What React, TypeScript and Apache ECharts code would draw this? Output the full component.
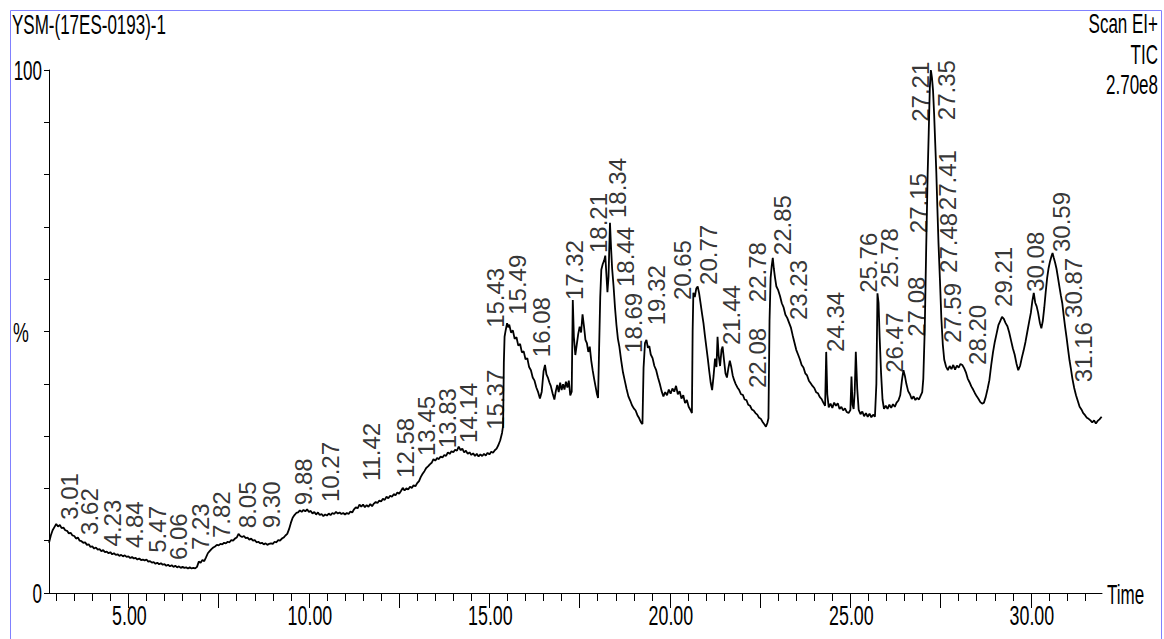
import React, { useEffect, useRef } from "react";
import * as echarts from "echarts";

// ---- TIC trace (retention time in min, relative intensity %) ----
const ticEarly: [number, number][] = [
  [2.8, 9.6], [2.85, 11.0], [2.9, 12.0], [2.95, 12.6], [3.0, 13.2], [3.05, 12.7], [3.1, 13.0], [3.15, 12.4],
  [3.2, 12.5], [3.25, 12.0], [3.3, 11.9], [3.35, 11.4], [3.4, 11.5], [3.45, 11.0], [3.5, 10.9], [3.55, 10.4],
  [3.6, 10.6], [3.65, 10.0], [3.7, 9.9], [3.75, 9.6], [3.8, 9.7], [3.85, 9.2], [3.9, 9.3], [3.95, 8.8],
  [4.0, 8.9], [4.05, 8.5], [4.1, 8.7], [4.15, 8.3], [4.2, 8.4], [4.25, 8.0], [4.3, 8.2], [4.35, 7.8],
  [4.4, 7.9], [4.45, 7.6], [4.5, 7.8], [4.55, 7.4], [4.6, 7.6], [4.65, 7.3], [4.7, 7.4], [4.75, 7.1],
  [4.8, 7.3], [4.85, 7.0], [4.9, 7.2], [4.95, 6.9], [5.0, 7.0], [5.05, 6.7], [5.1, 6.9], [5.15, 6.6],
  [5.2, 6.7], [5.25, 6.4], [5.3, 6.6], [5.35, 6.3], [5.4, 6.4], [5.45, 6.2], [5.5, 6.4], [5.55, 6.0],
  [5.6, 6.1], [5.65, 5.8], [5.7, 5.9], [5.75, 5.6], [5.8, 5.8], [5.85, 5.5], [5.9, 5.7], [5.95, 5.4],
  [6.0, 5.5], [6.05, 5.2], [6.1, 5.4], [6.15, 5.1], [6.2, 5.3], [6.25, 5.0], [6.3, 5.2], [6.35, 4.9],
  [6.4, 5.1], [6.45, 4.8], [6.5, 5.0], [6.55, 4.8], [6.6, 4.9], [6.65, 4.7], [6.7, 4.9], [6.75, 4.7],
  [6.8, 4.8], [6.85, 4.7], [6.9, 5.0], [6.95, 6.0], [7.0, 5.8], [7.05, 6.3], [7.1, 6.1], [7.15, 6.8],
  [7.2, 7.6], [7.25, 8.0], [7.3, 8.4], [7.35, 8.7], [7.4, 8.9], [7.45, 9.2], [7.5, 9.1], [7.55, 9.4],
  [7.6, 9.3], [7.65, 9.6], [7.7, 9.5], [7.75, 9.8], [7.8, 9.7], [7.85, 10.1], [7.9, 10.0], [7.95, 10.4],
  [8.0, 10.6], [8.05, 11.3], [8.1, 10.9], [8.15, 10.7], [8.2, 10.9], [8.25, 10.5], [8.3, 10.6], [8.35, 10.2],
  [8.4, 10.4], [8.45, 10.0], [8.5, 10.1], [8.55, 9.7], [8.6, 9.8], [8.65, 9.5], [8.7, 9.6], [8.75, 9.3],
  [8.8, 9.5], [8.85, 9.2], [8.9, 9.4], [8.95, 9.5], [9.0, 9.4], [9.05, 9.8], [9.1, 9.7], [9.15, 10.1],
  [9.2, 10.0], [9.25, 10.4], [9.3, 10.6], [9.35, 11.0], [9.4, 11.3], [9.45, 12.2], [9.5, 13.4], [9.55, 14.4],
  [9.6, 14.9], [9.65, 15.3], [9.7, 15.4], [9.75, 15.8], [9.8, 15.5], [9.85, 15.9], [9.9, 15.6], [9.95, 16.0],
  [10.0, 15.5], [10.05, 15.7], [10.1, 15.2], [10.15, 15.5], [10.2, 15.0], [10.25, 15.4], [10.3, 14.9], [10.35, 15.1],
  [10.4, 14.7], [10.45, 15.0], [10.5, 14.8], [10.55, 15.2], [10.6, 14.9], [10.65, 15.3], [10.7, 15.1], [10.75, 15.5],
  [10.8, 15.2], [10.85, 15.4], [10.9, 15.1], [10.95, 15.3], [11.0, 15.0], [11.05, 15.3], [11.1, 15.1], [11.15, 15.6],
  [11.2, 15.4], [11.25, 16.0], [11.3, 16.4], [11.35, 16.2], [11.4, 16.9], [11.45, 16.5], [11.5, 16.9], [11.55, 16.4],
  [11.6, 16.8], [11.65, 16.5], [11.7, 17.0], [11.75, 16.6], [11.8, 17.1], [11.85, 17.4], [11.9, 17.2], [11.95, 17.7],
  [12.0, 17.5], [12.05, 18.0], [12.1, 17.8], [12.15, 18.4], [12.2, 18.1], [12.25, 18.6], [12.3, 18.4], [12.35, 18.9],
  [12.4, 18.7], [12.45, 19.2], [12.5, 19.0], [12.55, 19.5], [12.6, 20.1], [12.65, 19.6], [12.7, 20.0], [12.75, 19.8],
  [12.8, 20.3], [12.85, 20.1], [12.9, 20.6], [12.95, 20.4], [13.0, 21.0], [13.05, 21.4], [13.1, 22.2], [13.15, 22.8],
  [13.2, 23.3], [13.25, 23.9], [13.3, 24.2], [13.35, 24.6], [13.4, 24.9], [13.45, 25.6], [13.5, 25.3], [13.55, 25.8],
  [13.6, 25.6], [13.65, 26.1], [13.7, 25.9], [13.75, 26.4], [13.8, 26.2], [13.85, 26.9], [13.9, 26.6], [13.95, 27.1],
  [14.0, 26.9], [14.05, 27.4], [14.1, 27.2], [14.15, 28.0], [14.2, 27.3], [14.25, 27.6], [14.3, 26.9], [14.35, 27.2],
  [14.4, 26.6], [14.45, 26.9], [14.5, 26.4], [14.55, 26.7], [14.6, 26.2], [14.65, 26.6], [14.7, 26.1], [14.75, 26.5],
  [14.8, 26.2], [14.85, 26.6], [14.9, 26.3], [14.95, 26.8], [15.0, 26.5], [15.05, 27.0], [15.1, 26.8], [15.15, 27.3],
  [15.2, 27.6], [15.25, 28.3], [15.3, 29.2], [15.35, 30.6],
];

const ticMid: [number, number][] = [
  [15.38, 32.0], [15.4, 44.0], [15.42, 49.0], [15.45, 50.2], [15.49, 51.6], [15.52, 50.8], [15.55, 51.3], [15.6, 49.8],
  [15.65, 50.2], [15.7, 48.6], [15.75, 48.9], [15.8, 47.3], [15.85, 47.6], [15.9, 46.0], [15.95, 46.2], [16.0, 44.7],
  [16.05, 44.9], [16.1, 43.2], [16.15, 42.6], [16.2, 41.2], [16.25, 40.6], [16.3, 39.3], [16.35, 38.4], [16.4, 37.2],
  [16.45, 38.5], [16.5, 42.4], [16.54, 43.6], [16.58, 41.8], [16.62, 41.2], [16.66, 40.3], [16.7, 39.6], [16.75, 38.2],
  [16.8, 37.0], [16.84, 38.6], [16.88, 39.8], [16.92, 38.4], [16.96, 40.2], [17.0, 38.8], [17.04, 39.9], [17.08, 38.9],
  [17.12, 40.4], [17.16, 39.3], [17.2, 40.6], [17.24, 37.8], [17.28, 38.5], [17.31, 56.0], [17.34, 49.0], [17.38, 45.5],
  [17.42, 47.5], [17.46, 49.5], [17.5, 50.9], [17.54, 49.8], [17.58, 53.3], [17.62, 51.0], [17.66, 48.4], [17.7, 47.8],
  [17.74, 46.1], [17.78, 47.1], [17.82, 44.5], [17.86, 42.6], [17.9, 41.0], [17.94, 39.5], [17.98, 38.0], [18.01, 37.3],
  [18.04, 47.0], [18.07, 56.5], [18.1, 61.8], [18.14, 62.9], [18.18, 63.6], [18.21, 64.5], [18.24, 61.0], [18.27, 57.5],
  [18.3, 60.5], [18.34, 70.8], [18.37, 66.0], [18.4, 62.0], [18.44, 58.6], [18.48, 54.5], [18.52, 51.2], [18.56, 48.6],
  [18.6, 47.1], [18.65, 44.5], [18.7, 42.2], [18.75, 40.6], [18.8, 39.0], [18.85, 37.6], [18.9, 36.8], [18.95, 35.9],
  [19.0, 35.3], [19.05, 34.9], [19.1, 34.0], [19.15, 33.4], [19.2, 32.6], [19.24, 32.3], [19.27, 43.0], [19.31, 47.8],
  [19.35, 48.4], [19.39, 46.9], [19.43, 47.2], [19.47, 45.6], [19.52, 44.9], [19.57, 43.4], [19.62, 42.6], [19.67, 41.2],
  [19.72, 40.0], [19.77, 38.6], [19.82, 37.6], [19.87, 38.4], [19.92, 37.8], [19.97, 38.9], [20.02, 38.1], [20.07, 39.1],
  [20.12, 38.5], [20.17, 39.6], [20.22, 38.0], [20.27, 38.6], [20.32, 37.2], [20.37, 37.8], [20.42, 36.3], [20.47, 36.9],
  [20.52, 35.6], [20.57, 35.0], [20.61, 34.4], [20.63, 50.0], [20.65, 57.4], [20.69, 56.6], [20.73, 58.2], [20.77, 58.6],
  [20.81, 57.3], [20.85, 55.4], [20.89, 53.4], [20.93, 51.6], [20.97, 49.2], [21.01, 47.0], [21.05, 44.8], [21.09, 42.4],
  [21.13, 40.2], [21.17, 38.8], [21.21, 41.5], [21.25, 44.8], [21.29, 43.2], [21.32, 49.0], [21.35, 45.5], [21.39, 43.4],
  [21.43, 46.5], [21.46, 47.1], [21.5, 44.5], [21.54, 42.0], [21.58, 41.2], [21.62, 43.0], [21.66, 44.4], [21.7, 43.2],
  [21.74, 41.6], [21.78, 40.7], [21.82, 40.0], [21.87, 39.3], [21.92, 38.8], [21.97, 38.0], [22.02, 37.9], [22.07, 37.0],
  [22.12, 36.9], [22.17, 36.0], [22.22, 35.8], [22.27, 35.1], [22.32, 34.9], [22.37, 34.4], [22.42, 34.1], [22.47, 33.5],
  [22.52, 33.3], [22.57, 32.7], [22.62, 32.2], [22.66, 31.8], [22.7, 32.5], [22.73, 33.4],
];

const ticLate: [number, number][] = [
  [22.76, 52.0], [22.79, 60.2], [22.82, 62.5], [22.85, 64.1], [22.88, 62.0], [22.91, 60.4], [22.95, 58.6], [23.0, 57.9],
  [23.05, 56.8], [23.1, 55.4], [23.15, 54.6], [23.2, 53.2], [23.25, 52.6], [23.3, 51.7], [23.35, 50.8], [23.4, 49.3],
  [23.45, 47.9], [23.5, 46.5], [23.55, 45.6], [23.6, 44.7], [23.65, 43.6], [23.7, 43.1], [23.75, 42.0], [23.8, 41.6],
  [23.85, 40.6], [23.9, 40.1], [23.95, 39.6], [24.0, 39.2], [24.05, 38.4], [24.1, 38.2], [24.15, 37.5], [24.2, 37.1],
  [24.25, 36.4], [24.3, 35.8], [24.33, 46.1], [24.36, 38.0], [24.4, 35.5], [24.45, 36.2], [24.5, 35.4], [24.55, 36.4],
  [24.6, 35.8], [24.65, 36.3], [24.7, 35.2], [24.75, 35.6], [24.8, 34.9], [24.85, 35.3], [24.9, 34.6], [24.95, 34.4],
  [25.0, 35.0], [25.03, 41.4], [25.06, 36.0], [25.09, 35.2], [25.12, 38.5], [25.15, 46.1], [25.19, 39.0], [25.23, 35.0],
  [25.28, 34.2], [25.33, 34.7], [25.38, 33.8], [25.43, 34.4], [25.48, 33.7], [25.53, 34.3], [25.58, 33.6], [25.63, 34.1],
  [25.68, 33.7], [25.72, 40.0], [25.75, 57.3], [25.78, 55.5], [25.81, 49.0], [25.85, 42.0], [25.89, 37.0], [25.93, 35.2],
  [25.98, 35.8], [26.03, 35.2], [26.08, 36.0], [26.13, 35.4], [26.18, 36.1], [26.23, 35.6], [26.28, 36.4], [26.33, 36.8],
  [26.38, 37.8], [26.43, 40.8], [26.47, 42.6], [26.51, 41.5], [26.55, 40.0], [26.6, 38.6], [26.65, 38.0], [26.7, 37.1],
  [26.75, 37.6], [26.8, 36.9], [26.85, 37.3], [26.9, 37.0], [26.95, 37.8], [26.99, 38.4], [27.02, 41.0], [27.06, 50.5],
  [27.1, 66.0], [27.14, 80.0], [27.17, 88.0], [27.2, 96.5], [27.23, 100.0], [27.26, 98.5], [27.29, 96.0], [27.32, 91.5],
  [27.35, 86.0], [27.38, 80.5], [27.41, 73.5], [27.44, 67.0], [27.48, 60.0], [27.52, 52.5], [27.56, 47.5], [27.6, 44.6],
  [27.65, 43.3], [27.7, 42.6], [27.75, 43.4], [27.8, 42.8], [27.85, 43.6], [27.9, 42.7], [27.95, 43.5], [28.0, 43.1],
  [28.05, 43.8], [28.1, 43.6], [28.15, 43.0], [28.2, 42.2], [28.25, 41.0], [28.3, 40.3], [28.35, 39.5], [28.4, 38.9],
  [28.45, 38.2], [28.5, 37.6], [28.55, 37.1], [28.6, 36.5], [28.65, 36.2], [28.7, 36.4], [28.75, 37.5], [28.8, 39.0],
  [28.85, 40.7], [28.9, 43.5], [28.95, 46.0], [29.0, 48.0], [29.05, 49.6], [29.1, 51.2], [29.15, 52.0], [29.2, 52.8],
  [29.25, 52.4], [29.3, 51.6], [29.35, 51.0], [29.4, 49.8], [29.45, 48.3], [29.5, 46.8], [29.55, 45.6], [29.6, 43.9],
  [29.65, 42.6], [29.7, 43.4], [29.75, 45.0], [29.8, 46.4], [29.85, 48.0], [29.9, 49.9], [29.95, 51.8], [30.0, 53.6],
  [30.04, 55.8], [30.08, 57.4], [30.12, 55.5], [30.16, 54.8], [30.2, 53.6], [30.25, 51.6], [30.29, 50.6], [30.33, 52.0],
  [30.37, 54.5], [30.41, 57.5], [30.45, 60.2], [30.49, 62.1], [30.53, 63.4], [30.57, 64.4], [30.6, 65.0], [30.63, 64.2],
  [30.67, 63.2], [30.71, 62.0], [30.75, 60.3], [30.79, 58.6], [30.83, 56.9], [30.87, 55.4], [30.91, 53.0], [30.95, 50.8],
  [30.99, 48.8], [31.03, 46.6], [31.07, 44.5], [31.11, 42.8], [31.15, 41.0], [31.2, 39.2], [31.25, 37.8], [31.3, 36.7],
  [31.35, 35.6], [31.4, 35.1], [31.45, 34.4], [31.5, 34.0], [31.55, 33.5], [31.6, 33.3], [31.65, 33.0], [31.7, 32.6],
  [31.75, 33.0], [31.8, 32.4], [31.85, 32.9], [31.9, 33.2], [31.96, 33.7],
];

// ---- peak annotations: text, anchor time (min), anchor level (%) ----
const peakLabelText = [
  "3.01", "3.62", "4.23", "4.84", "5.47", "6.06", "7.23", "7.82", "8.05", "9.30", "9.88", "10.27",
  "11.42", "12.58", "13.45", "13.83", "14.14", "15.37", "15.43", "15.49", "16.08", "17.32", "18.21", "18.34",
  "18.44", "18.69", "19.32", "20.65", "20.77", "21.44", "22.08", "22.78", "22.85", "23.23", "24.34", "25.76",
  "25.78", "26.47", "27.08", "27.15", "27.21", "27.35", "27.41", "27.48", "27.59", "28.20", "29.21", "30.08",
  "30.59", "30.87", "31.16",
];
const peakLabelTime = [
  3.36, 3.91, 4.56, 5.16, 5.8, 6.4, 6.99, 7.57, 8.29, 8.95, 9.84, 10.59,
  11.72, 12.67, 13.25, 13.83, 14.41, 15.16, 15.16, 15.77, 16.43, 17.37, 18.01, 18.55,
  18.76, 18.98, 19.62, 20.34, 21.06, 21.7, 22.42, 22.44, 23.11, 23.55, 24.6, 25.49,
  26.07, 26.21, 26.82, 26.88, 26.93, 27.65, 27.68, 27.73, 27.82, 28.51, 29.23, 30.12,
  30.86, 31.17, 31.45,
];
const peakLabelLevel = [
  14.0, 11.1, 8.9, 8.6, 7.7, 6.3, 8.2, 10.5, 12.4, 12.4, 16.8, 17.4,
  21.4, 22.0, 26.2, 27.7, 28.7, 31.2, 50.7, 53.2, 45.1, 56.0, 65.0, 71.7,
  58.5, 45.9, 51.2, 56.0, 58.9, 47.4, 39.2, 55.6, 64.6, 52.2, 46.1, 57.4,
  58.3, 42.1, 49.0, 68.8, 90.1, 90.4, 73.2, 61.2, 47.8, 43.6, 54.7, 57.6,
  65.2, 52.6, 40.3,
];

// ---- axes ----
const xLabelValues = [5, 10, 15, 20, 25, 30];
const xMajorTicks = [5, 7.5, 10, 12.5, 15, 17.5, 20, 22.5, 25, 27.5, 30];
const xMinorTicks = [
  3, 3.5, 4, 4.5, 5, 5.5, 6, 6.5, 7, 7.5, 8, 8.5, 9, 9.5, 10, 10.5, 11, 11.5, 12, 12.5, 13, 13.5, 14, 14.5,
  15, 15.5, 16, 16.5, 17, 17.5, 18, 18.5, 19, 19.5, 20, 20.5, 21, 21.5, 22, 22.5, 23, 23.5, 24, 24.5, 25, 25.5,
  26, 26.5, 27, 27.5, 28, 28.5, 29, 29.5, 30, 30.5, 31, 31.5,
];
const yLabelValues = [100, 50, 0];
const yLabelText = ["100", "%", "0"];
const xAxisName = "Time";
const titleText = "YSM-(17ES-0193)-1";
const cornerTexts = ["Scan EI+", "TIC", "2.70e8"];

const REG = "'Liberation Sans', Arial, sans-serif";
const X_MIN = 2.8;
const X_MAX = 31.97;

export default function App() {
  const ref = useRef<HTMLDivElement>(null);
  useEffect(() => {
    if (!ref.current) return;
    const chart = echarts.init(ref.current, undefined, { renderer: "svg" });
    const ticData = [...ticEarly, ...ticMid, ...ticLate];
    const labelData = peakLabelText.map((t, i) => ({
      name: t,
      value: [peakLabelTime[i], peakLabelLevel[i]],
    }));
    const narrowText = (id: string, text: string, x: number, y: number, align: string, sx = 0.63) => ({
      id,
      type: "text",
      x,
      y,
      scaleX: sx,
      silent: true,
      style: {
        text,
        fill: "#000",
        font: `27px ${REG}`,
        textAlign: align,
        textVerticalAlign: "middle",
      },
    });
    chart.setOption({
      animation: false,
      backgroundColor: "#fff",
      grid: { left: 49, right: 62, top: 70, bottom: 46, containLabel: false },
      xAxis: [
        {
          type: "value",
          min: X_MIN,
          max: X_MAX,
          position: "bottom",
          axisLine: { show: true, lineStyle: { color: "#000", width: 1 } },
          axisTick: { show: true, customValues: xMinorTicks, length: 8, lineStyle: { color: "#000", width: 1 } },
          axisLabel: { show: false },
          splitLine: { show: false },
        },
        {
          type: "value",
          min: X_MIN,
          max: X_MAX,
          position: "bottom",
          axisLine: { show: false },
          axisTick: { show: true, customValues: xMajorTicks, length: 15, lineStyle: { color: "#000", width: 1 } },
          axisLabel: { show: false },
          splitLine: { show: false },
        },
      ],
      yAxis: {
        type: "value",
        min: 0,
        max: 100,
        interval: 10,
        axisLine: { show: true, lineStyle: { color: "#000", width: 1 } },
        axisTick: { show: true, length: 5, lineStyle: { color: "#000", width: 1 } },
        axisLabel: { show: false },
        splitLine: { show: false },
      },
      series: [
        {
          type: "line",
          data: ticData,
          xAxisIndex: 0,
          symbol: "none",
          showSymbol: false,
          lineStyle: { color: "#000", width: 1.8 },
          silent: true,
        },
        {
          type: "scatter",
          data: labelData,
          xAxisIndex: 0,
          symbolSize: 0,
          silent: true,
          label: {
            show: true,
            position: "inside",
            rotate: 90,
            align: "left",
            verticalAlign: "middle",
            formatter: (p: any) => p.name,
            fontFamily: REG,
            fontSize: 24,
            color: "#000",
          },
          labelLayout: { hideOverlap: false },
        },
      ],
    });

    // axis texts positioned through the chart's own scales
    const toPx = (x: number, y: number) => chart.convertToPixel({ gridIndex: 0 }, [x, y]) as number[];
    const axisTexts: any[] = [];
    xLabelValues.forEach((v, i) => {
      const [px, py] = toPx(v, 0);
      axisTexts.push(narrowText(`xl${i}`, v.toFixed(2), px + 1, py + 23, "center", 0.66));
    });
    yLabelValues.forEach((v, i) => {
      const [px, py] = toPx(X_MIN, v);
      if (yLabelText[i] === "%") axisTexts.push(narrowText(`yl${i}`, yLabelText[i], px - 36, py + 1, "left", 0.66));
      else axisTexts.push(narrowText(`yl${i}`, yLabelText[i], px - 7, py + 1, "right"));
    });
    {
      const [px, py] = toPx(X_MAX, 0);
      axisTexts.push(narrowText("xname", xAxisName, px + 5, py + 2, "left"));
    }

    chart.setOption({
      graphic: [
        {
          id: "frame",
          type: "rect",
          shape: { x: 10.5, y: 10.5, width: 1151, height: 660 },
          style: { fill: "none", stroke: "#8080ff", lineWidth: 1 },
          silent: true,
        },
        narrowText("title", titleText, 12, 25, "left"),
        narrowText("c0", cornerTexts[0], 1158, 24, "right"),
        narrowText("c1", cornerTexts[1], 1158, 55, "right"),
        narrowText("c2", cornerTexts[2], 1158, 85, "right"),
        ...axisTexts,
      ],
    });
    return () => chart.dispose();
  }, []);
  return (
    <div
      ref={ref}
      style={{ position: "fixed", left: 0, top: 0, width: 1164, height: 639, background: "#fff" }}
    />
  );
}
